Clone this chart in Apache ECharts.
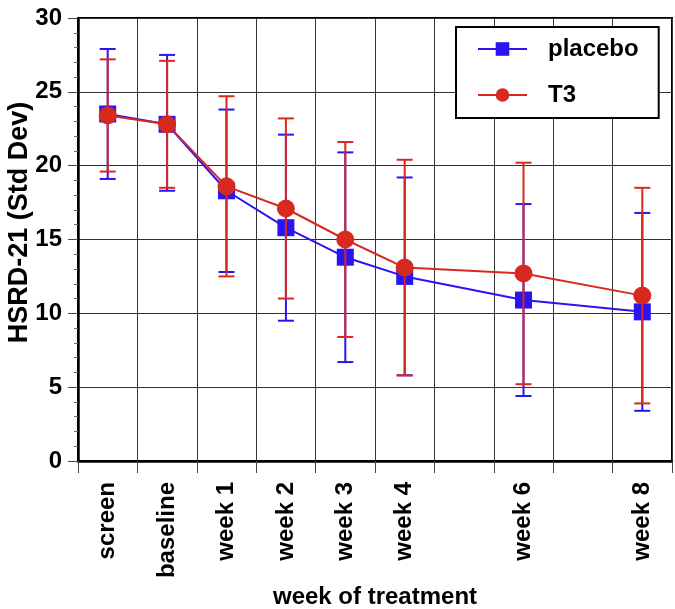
<!DOCTYPE html>
<html><head><meta charset="utf-8">
<script src="https://cdn.jsdelivr.net/npm/echarts@6/dist/echarts.min.js"></script>
<style>html,body{margin:0;padding:0;background:#fff}#c{width:675px;height:609px}</style>
</head><body><div id="c"></div>
<script>
const categories = ['screen','baseline','week 1','week 2','week 3','week 4','week 6','week 8'];
const weeks = [-1, 0, 1, 2, 3, 4, 6, 8];
const placeboMean = [23.5, 22.8, 18.3, 15.8, 13.8, 12.5, 10.9, 10.1];
const placeboHigh = [27.9, 27.5, 23.8, 22.1, 20.9, 19.2, 17.4, 16.8];
const placeboLow  = [19.1, 18.3, 12.8, 9.5, 6.7, 5.8, 4.4, 3.4];
const t3Mean = [23.4, 22.8, 18.6, 17.1, 15.0, 13.1, 12.7, 11.2];
const t3High = [27.2, 27.1, 24.7, 23.2, 21.6, 20.4, 20.2, 18.5];
const t3Low  = [19.6, 18.5, 12.5, 11.0, 8.4, 5.8, 5.2, 3.9];
const yTicks = [0, 5, 10, 15, 20, 25, 30];

const BLUE = '#2a14f2', RED = '#d7291f';
const FONT = '"Liberation Sans", Arial, Helvetica, sans-serif';
const OFFSET = 1.5; // axis starts 1.5 weeks before "screen"
const xs = weeks.map(w => w + OFFSET);

function errData(low, high) { return xs.map((x, i) => [x, low[i], high[i]]); }
function errRender(color) {
  return function (params, api) {
    const x = api.value(0);
    const lo = api.coord([x, api.value(1)]);
    const hi = api.coord([x, api.value(2)]);
    const hw = 8;
    const st = { stroke: color, lineWidth: 2 };
    return { type: 'group', children: [
      { type: 'line', shape: { x1: lo[0], y1: lo[1], x2: hi[0], y2: hi[1] }, style: st },
      { type: 'line', shape: { x1: lo[0]-hw, y1: lo[1], x2: lo[0]+hw, y2: lo[1] }, style: st },
      { type: 'line', shape: { x1: hi[0]-hw, y1: hi[1], x2: hi[0]+hw, y2: hi[1] }, style: st }
    ]};
  };
}

const chart = echarts.init(document.getElementById('c'), null, { renderer: 'canvas' });
chart.setOption({
  animation: false,
  backgroundColor: '#fff',
  textStyle: { fontFamily: FONT },
  grid: { left: 78, right: 3, top: 18, bottom: 148, show: true, borderColor: '#000', borderWidth: 2,
          containLabel: false, outerBoundsMode: 'none' },
  legend: {
    orient: 'vertical', left: 456, top: 27,
    backgroundColor: '#fff', borderColor: '#000', borderWidth: 2,
    padding: [10, 20, 11, 21], itemGap: 22, itemWidth: 49, itemHeight: 17,
    textStyle: { fontFamily: FONT, fontSize: 24, fontWeight: 'bold', color: '#000', padding: [0, 0, 0, 16] },
    data: ['placebo', 'T3']
  },
  xAxis: [
    { type: 'value', min: 0, max: 10, interval: 1,
      axisLine: { show: true, lineStyle: { color: '#000', width: 2.5 } },
      axisTick: { show: true, length: 12, lineStyle: { color: '#444', width: 1 } },
      axisLabel: { show: false },
      splitLine: { show: true, lineStyle: { color: '#333', width: 1 } },
      name: 'week of treatment', nameLocation: 'middle', nameGap: 124, nameMoveOverlap: false,
      nameTextStyle: { fontFamily: FONT, fontSize: 24, fontWeight: 'bold', color: '#000' }
    },
    { type: 'value', min: 0, max: 10, interval: 0.5, position: 'bottom',
      axisLine: { show: false }, axisTick: { show: false }, splitLine: { show: false },
      axisLabel: { show: true, rotate: 90, margin: 21, fontFamily: FONT, fontSize: 24, fontWeight: 'bold', color: '#000',
        formatter: v => { const i = xs.indexOf(v); return i >= 0 ? categories[i] : ''; } }
    }
  ],
  yAxis: {
    type: 'value', min: 0, max: 30, interval: 5,
    axisLine: { show: true, lineStyle: { color: '#000', width: 2.5 } },
    axisTick: { show: true, length: 10, lineStyle: { color: '#444', width: 1 } },
    minorTick: { show: true, splitNumber: 5, length: 4, lineStyle: { color: '#666', width: 1 } },
    axisLabel: { margin: 16, fontFamily: FONT, fontSize: 24, fontWeight: 'bold', color: '#000',
      formatter: v => yTicks.indexOf(v) >= 0 ? String(v) : '' },
    splitLine: { show: true, lineStyle: { color: '#333', width: 1 } },
    name: 'HSRD-21 (Std Dev)', nameLocation: 'middle', nameGap: 45, nameMoveOverlap: false,
    nameTextStyle: { fontFamily: FONT, fontSize: 27, fontWeight: 'bold', color: '#000', padding: [0, 0, 0, 34] }
  },
  series: [
    { name: 'placeboErr', type: 'custom', xAxisIndex: 0, z: 2, renderItem: errRender(BLUE),
      data: errData(placeboLow, placeboHigh), encode: { x: 0, y: [1, 2] } },
    { name: 'placebo', type: 'line', xAxisIndex: 0, z: 3, symbol: 'rect', symbolSize: 17,
      itemStyle: { color: BLUE }, lineStyle: { color: BLUE, width: 2 },
      data: xs.map((x, i) => [x, placeboMean[i]]) },
    { name: 't3Err', type: 'custom', xAxisIndex: 0, z: 4, renderItem: errRender(RED),
      data: errData(t3Low, t3High), encode: { x: 0, y: [1, 2] } },
    { name: 'T3', type: 'line', xAxisIndex: 0, z: 5, symbol: 'circle', symbolSize: 18,
      itemStyle: { color: RED }, lineStyle: { color: RED, width: 2 },
      data: xs.map((x, i) => [x, t3Mean[i]]) }
  ]
});
</script></body></html>
